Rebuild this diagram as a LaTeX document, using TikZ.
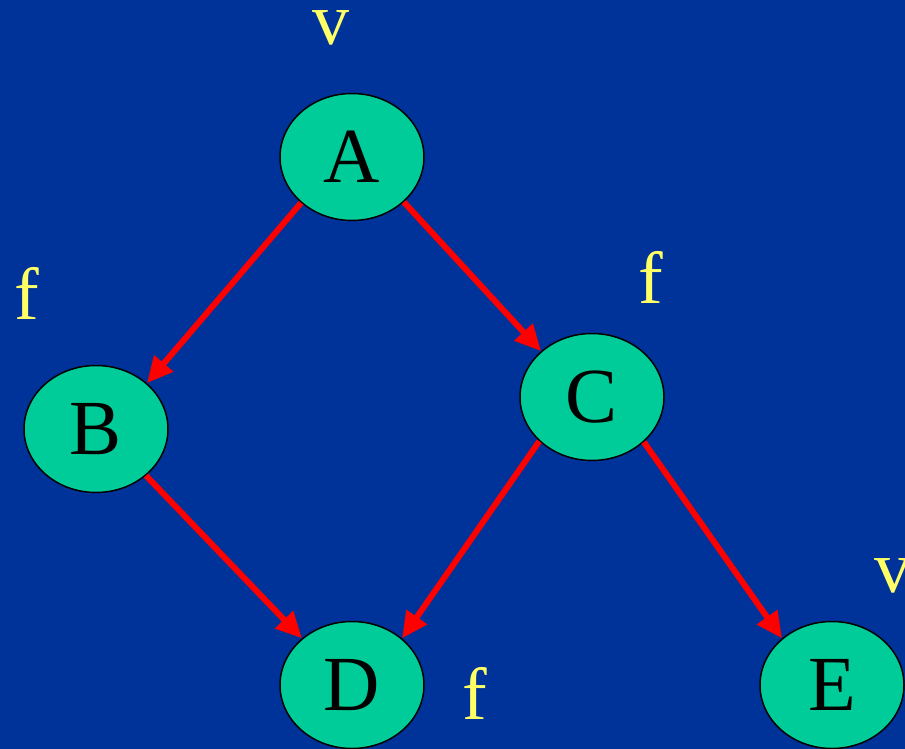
\documentclass[tikz,border=0pt]{standalone}
\usepackage{fontspec}
\setmainfont{Liberation Serif}
\usetikzlibrary{shapes.geometric,arrows.meta}
\definecolor{bgblue}{HTML}{003399}
\definecolor{nodegreen}{HTML}{00CC99}
\definecolor{labyellow}{HTML}{FFFF66}
\begin{document}
\begin{tikzpicture}[x=1pt,y=-1pt,
  vertex/.style={ellipse,draw=black,line width=1.5pt,fill=nodegreen,minimum width=144pt,minimum height=127pt,inner sep=0pt,font=\fontsize{78}{80}\selectfont},
  mark label/.style={text=labyellow,anchor=base,inner sep=0pt,font=\fontsize{74}{76}\selectfont},
  edge/.style={draw=red,line width=6pt,-{Triangle[length=26pt,width=24pt]}}]
\fill[bgblue] (0,0) rectangle (905,749);
\useasboundingbox (0,0) rectangle (905,749);
\node[vertex] (A) at (352,157) {A};
\node[vertex] (B) at (96,429) {B};
\node[vertex] (C) at (592,397) {C};
\node[vertex] (D) at (352,685) {D};
\node[vertex] (E) at (832,685) {E};
\node[mark label] (lA) at (331,45) {v};
\node[mark label] (lB) at (27,319) {f};
\node[mark label] (lC) at (651,303) {f};
\node[mark label] (lD) at (475,719) {f};
\node[mark label] (lE) at (893,592) {v};
\draw[edge] (A.-138) -- (B.42);
\draw[edge] (A.-41) -- (C.138);
\draw[edge] (B.-43) -- (D.137);
\draw[edge] (C.-140) -- (D.43);
\draw[edge] (C.-41) -- (E.137);
\end{tikzpicture}
\end{document}
